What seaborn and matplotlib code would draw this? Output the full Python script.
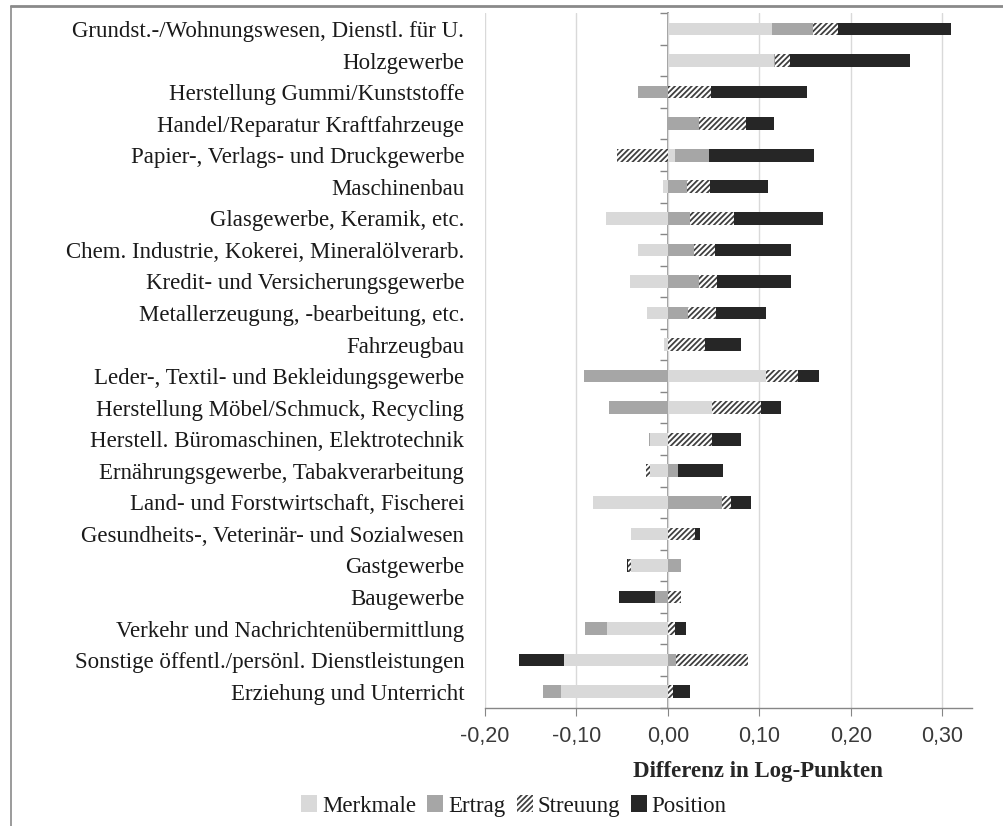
import matplotlib
matplotlib.use("Agg")
import matplotlib.pyplot as plt
import seaborn as sns
import numpy as np
from matplotlib.patches import Patch
from matplotlib.lines import Line2D
from matplotlib.ticker import FuncFormatter

# categories top to bottom
branchen = [
    "Grundst.-/Wohnungswesen, Dienstl. für U.",
    "Holzgewerbe",
    "Herstellung Gummi/Kunststoffe",
    "Handel/Reparatur Kraftfahrzeuge",
    "Papier-, Verlags- und Druckgewerbe",
    "Maschinenbau",
    "Glasgewerbe, Keramik, etc.",
    "Chem. Industrie, Kokerei, Mineralölverarb.",
    "Kredit- und Versicherungsgewerbe",
    "Metallerzeugung, -bearbeitung, etc.",
    "Fahrzeugbau",
    "Leder-, Textil- und Bekleidungsgewerbe",
    "Herstellung Möbel/Schmuck, Recycling",
    "Herstell. Büromaschinen, Elektrotechnik",
    "Ernährungsgewerbe, Tabakverarbeitung",
    "Land- und Forstwirtschaft, Fischerei",
    "Gesundheits-, Veterinär- und Sozialwesen",
    "Gastgewerbe",
    "Baugewerbe",
    "Verkehr und Nachrichtenübermittlung",
    "Sonstige öffentl./persönl. Dienstleistungen",
    "Erziehung und Unterricht",
]

merkmale = [0.114, 0.116, 0.0, 0.0, 0.008, -0.005, -0.068, -0.033, -0.042, -0.023, -0.004,
            0.107, 0.048, -0.020, -0.020, -0.082, -0.040, -0.040, 0.0, -0.067, -0.114, -0.117]
ertrag = [0.045, 0.001, -0.033, 0.034, 0.037, 0.021, 0.024, 0.028, 0.034, 0.022, 0.0,
          -0.092, -0.064, -0.001, 0.011, 0.059, 0.0, 0.014, -0.014, -0.024, 0.009, -0.020]
streuung = [0.027, 0.016, 0.047, 0.051, -0.056, 0.025, 0.048, 0.023, 0.020, 0.031, 0.041,
            0.035, 0.054, 0.048, -0.004, 0.010, 0.030, -0.004, 0.014, 0.008, 0.078, 0.005]
position = [0.123, 0.132, 0.105, 0.031, 0.115, 0.063, 0.098, 0.084, 0.080, 0.054, 0.039,
            0.023, 0.022, 0.032, 0.049, 0.022, 0.005, -0.001, -0.040, 0.012, -0.049, 0.019]

serien = ["Merkmale", "Ertrag", "Streuung", "Position"]
farben = ["#d9d9d9", "#a6a6a6", "white", "#262626"]
schraffur = [None, None, "//////", None]

sns.set_style("white")
plt.rcParams["font.family"] = ["Liberation Serif", "DejaVu Serif"]
plt.rcParams["hatch.linewidth"] = 1.3
plt.rcParams["text.color"] = "#1a1a1a"

fig = plt.figure(figsize=(10.04, 8.26), dpi=100)
ax = fig.add_axes([485 / 1004, 1 - 707.5 / 826, (971.7 - 485) / 1004, (707.5 - 13.2) / 826])

werte = np.array([merkmale, ertrag, streuung, position])
# cumulative ends, positive and negative parts stacked separately (Excel style)
cum_pos = np.cumsum(np.clip(werte, 0, None), axis=0)
cum_neg = np.cumsum(np.clip(werte, None, 0), axis=0)

# draw from the last series to the first so that each layer covers the earlier part
for k in range(3, -1, -1):
    for cum in (cum_pos, cum_neg):
        sns.barplot(x=cum[k], y=branchen, order=branchen, orient="h", ax=ax,
                    color=farben[k], saturation=1, width=0.4, errorbar=None,
                    hatch=schraffur[k], edgecolor="#404040" if schraffur[k] else farben[k],
                    linewidth=0)

xmin, xmax = -0.2, 0.332
ax.set_xlim(xmin, xmax)
ax.set_ylim(len(branchen) - 0.5, -0.5)
ax.set_xticks(np.arange(-0.2, 0.31, 0.1))
ax.xaxis.set_major_formatter(FuncFormatter(lambda v, p: f"{v:.2f}".replace(".", ",").replace("-0,00", "0,00")))
ax.grid(axis="x", color="#d9d9d9", linewidth=1)
ax.set_axisbelow(True)
for s in ["top", "right", "left"]:
    ax.spines[s].set_visible(False)
ax.spines["bottom"].set_color("#868686")
ax.spines["bottom"].set_linewidth(1)
ax.tick_params(axis="x", direction="out", length=5.5, color="#868686", pad=8,
               labelsize=15.5, labelcolor="#3a3a3a", bottom=True)
for t in ax.get_xticklabels():
    t.set_fontfamily("Liberation Sans")
ax.tick_params(axis="y", length=0, pad=15, labelsize=16.5, labelcolor="#1a1a1a")
ax.set_ylabel("")
ax.set_xlabel("Differenz in Log-Punkten", fontsize=16.5, fontweight="bold", va="center")
ax.xaxis.set_label_coords((758 - 485) / (971.7 - 485), (707.5 - 771) / (707.5 - 13.2))

# category axis drawn at x = 0 with ticks between categories
sec = ax.secondary_yaxis((0 - xmin) / (xmax - xmin))
sec.set_yticks(np.arange(-0.5, len(branchen), 1.0))
sec.set_yticklabels([])
sec.tick_params(axis="y", direction="out", length=6, color="#868686", width=1)
sec.spines["left"].set_color("#868686")
sec.spines["left"].set_linewidth(1.2)

handles = [Patch(facecolor=farben[k], edgecolor="#404040" if schraffur[k] else farben[k],
                 hatch=schraffur[k], linewidth=0, label=serien[k]) for k in range(4)]
fig.legend(handles=handles, loc="center", bbox_to_anchor=(514 / 1004, 1 - 806 / 826), ncol=4,
           frameon=False, fontsize=16.5, handlelength=0.7, handleheight=0.7,
           handletextpad=0.2, columnspacing=0.5)

# outer frame of the chart area (top and left visible)
fig.add_artist(Line2D([11 / 1004, 1], [1 - 5.5 / 826, 1 - 5.5 / 826], transform=fig.transFigure,
                      color="#8a8a8a", linewidth=2))
fig.add_artist(Line2D([11 / 1004, 11 / 1004], [0, 1 - 5.5 / 826], transform=fig.transFigure,
                      color="#8a8a8a", linewidth=1.2))

fig.savefig("out.png", dpi=100, facecolor="white")
